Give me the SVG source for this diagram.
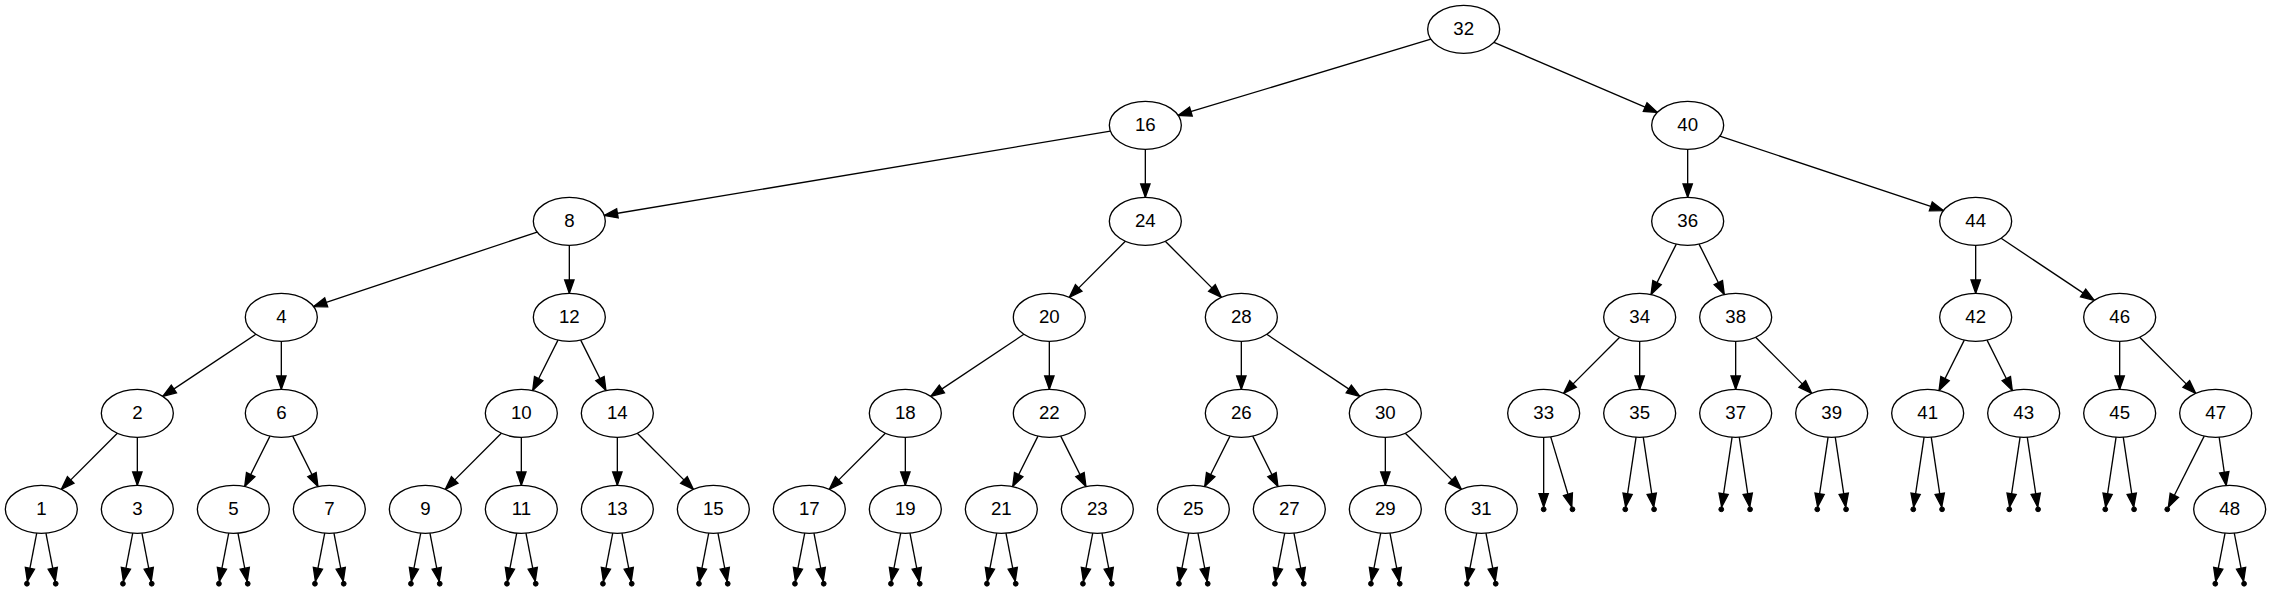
<svg xmlns="http://www.w3.org/2000/svg" width="2271" height="591" viewBox="0 0 2271 591">
<style>
.n ellipse{fill:#fff;stroke:#000;stroke-width:1.33}
.n text{font-family:"Liberation Sans",Arial,sans-serif;font-size:18.67px;text-anchor:middle;fill:#000}
#edges line{stroke:#000;stroke-width:1.33;marker-end:url(#ah)}
.pt{fill:#000;stroke:#000;stroke-width:1}
</style>
<defs>
<marker id="ah" markerUnits="userSpaceOnUse" markerWidth="20" markerHeight="20" refX="13.33" refY="0" orient="auto" overflow="visible">
<path d="M0,-4.67 L13.33,0 L0,4.67 Z" fill="#000" stroke="#000" stroke-width="1.33"/>
</marker>
</defs>
<rect width="2271" height="591" fill="#fff"/>
<g id="edges">
<g transform="translate(1463.67,29.33)"><line x1="-32.8" y1="9.89" x2="-285.53" y2="86.11"/><line x1="30.28" y1="12.98" x2="193.72" y2="83.02"/></g>
<g transform="translate(1145.33,125.33)"><line x1="-34.93" y1="5.82" x2="-541.07" y2="90.18"/><line x1="0" y1="24" x2="0" y2="72"/></g>
<g transform="translate(1687.67,125.33)"><line x1="0" y1="24" x2="0" y2="72"/><line x1="32.2" y1="10.73" x2="255.8" y2="85.27"/></g>
<g transform="translate(569.33,221.33)"><line x1="-32.2" y1="10.73" x2="-255.8" y2="85.27"/><line x1="0" y1="24" x2="0" y2="72"/></g>
<g transform="translate(1145.33,221.33)"><line x1="-19.97" y1="19.97" x2="-76.03" y2="76.03"/><line x1="19.97" y1="19.97" x2="76.03" y2="76.03"/></g>
<g transform="translate(1687.67,221.33)"><line x1="-11.38" y1="22.77" x2="-36.62" y2="73.23"/><line x1="11.38" y1="22.77" x2="36.62" y2="73.23"/></g>
<g transform="translate(1975.67,221.33)"><line x1="0" y1="24" x2="0" y2="72"/><line x1="25.46" y1="16.97" x2="118.54" y2="79.03"/></g>
<g transform="translate(281.33,317.33)"><line x1="-25.46" y1="16.97" x2="-118.54" y2="79.03"/><line x1="0" y1="24" x2="0" y2="72"/></g>
<g transform="translate(569.33,317.33)"><line x1="-11.38" y1="22.77" x2="-36.62" y2="73.23"/><line x1="11.38" y1="22.77" x2="36.62" y2="73.23"/></g>
<g transform="translate(1049.33,317.33)"><line x1="-25.46" y1="16.97" x2="-118.54" y2="79.03"/><line x1="0" y1="24" x2="0" y2="72"/></g>
<g transform="translate(1241.33,317.33)"><line x1="0" y1="24" x2="0" y2="72"/><line x1="25.46" y1="16.97" x2="118.54" y2="79.03"/></g>
<g transform="translate(1639.67,317.33)"><line x1="-19.97" y1="19.97" x2="-76.03" y2="76.03"/><line x1="0" y1="24" x2="0" y2="72"/></g>
<g transform="translate(1735.67,317.33)"><line x1="0" y1="24" x2="0" y2="72"/><line x1="19.97" y1="19.97" x2="76.03" y2="76.03"/></g>
<g transform="translate(1975.67,317.33)"><line x1="-11.38" y1="22.77" x2="-36.62" y2="73.23"/><line x1="11.38" y1="22.77" x2="36.62" y2="73.23"/></g>
<g transform="translate(2119.67,317.33)"><line x1="0" y1="24" x2="0" y2="72"/><line x1="19.97" y1="19.97" x2="76.03" y2="76.03"/></g>
<g transform="translate(137.33,413.33)"><line x1="-19.97" y1="19.97" x2="-76.03" y2="76.03"/><line x1="0" y1="24" x2="0" y2="72"/></g>
<g transform="translate(281.33,413.33)"><line x1="-11.38" y1="22.77" x2="-36.62" y2="73.23"/><line x1="11.38" y1="22.77" x2="36.62" y2="73.23"/></g>
<g transform="translate(521.33,413.33)"><line x1="-19.97" y1="19.97" x2="-76.03" y2="76.03"/><line x1="0" y1="24" x2="0" y2="72"/></g>
<g transform="translate(617.33,413.33)"><line x1="0" y1="24" x2="0" y2="72"/><line x1="19.97" y1="19.97" x2="76.03" y2="76.03"/></g>
<g transform="translate(905.33,413.33)"><line x1="-19.97" y1="19.97" x2="-76.03" y2="76.03"/><line x1="0" y1="24" x2="0" y2="72"/></g>
<g transform="translate(1049.33,413.33)"><line x1="-11.38" y1="22.77" x2="-36.62" y2="73.23"/><line x1="11.38" y1="22.77" x2="36.62" y2="73.23"/></g>
<g transform="translate(1241.33,413.33)"><line x1="-11.38" y1="22.77" x2="-36.62" y2="73.23"/><line x1="11.38" y1="22.77" x2="36.62" y2="73.23"/></g>
<g transform="translate(1385.33,413.33)"><line x1="0" y1="24" x2="0" y2="72"/><line x1="19.97" y1="19.97" x2="76.03" y2="76.03"/></g>
<g transform="translate(1543.67,413.33)"><line x1="0" y1="24" x2="0" y2="93.6"/><line x1="7.06" y1="23.53" x2="28.11" y2="93.7"/></g>
<g transform="translate(1639.67,413.33)"><line x1="-3.58" y1="23.88" x2="-14.04" y2="93.63"/><line x1="3.58" y1="23.88" x2="14.04" y2="93.63"/></g>
<g transform="translate(1735.67,413.33)"><line x1="-3.58" y1="23.88" x2="-14.04" y2="93.63"/><line x1="3.58" y1="23.88" x2="14.04" y2="93.63"/></g>
<g transform="translate(1831.67,413.33)"><line x1="-3.58" y1="23.88" x2="-14.04" y2="93.63"/><line x1="3.58" y1="23.88" x2="14.04" y2="93.63"/></g>
<g transform="translate(1927.67,413.33)"><line x1="-3.58" y1="23.88" x2="-14.04" y2="93.63"/><line x1="3.58" y1="23.88" x2="14.04" y2="93.63"/></g>
<g transform="translate(2023.67,413.33)"><line x1="-3.58" y1="23.88" x2="-14.04" y2="93.63"/><line x1="3.58" y1="23.88" x2="14.04" y2="93.63"/></g>
<g transform="translate(2119.67,413.33)"><line x1="-3.58" y1="23.88" x2="-14.04" y2="93.63"/><line x1="3.58" y1="23.88" x2="14.04" y2="93.63"/></g>
<g transform="translate(2215.67,413.33)"><line x1="-11.47" y1="22.75" x2="-47.32" y2="93.86"/><line x1="3.48" y1="23.89" x2="10.52" y2="72.11"/></g>
<g transform="translate(41.33,509.33)"><line x1="-4.61" y1="23.8" x2="-13.94" y2="72.04"/><line x1="4.61" y1="23.8" x2="13.94" y2="72.04"/></g>
<g transform="translate(137.33,509.33)"><line x1="-4.61" y1="23.8" x2="-13.94" y2="72.04"/><line x1="4.61" y1="23.8" x2="13.94" y2="72.04"/></g>
<g transform="translate(233.33,509.33)"><line x1="-4.61" y1="23.8" x2="-13.94" y2="72.04"/><line x1="4.61" y1="23.8" x2="13.94" y2="72.04"/></g>
<g transform="translate(329.33,509.33)"><line x1="-4.61" y1="23.8" x2="-13.94" y2="72.04"/><line x1="4.61" y1="23.8" x2="13.94" y2="72.04"/></g>
<g transform="translate(425.33,509.33)"><line x1="-4.61" y1="23.8" x2="-13.94" y2="72.04"/><line x1="4.61" y1="23.8" x2="13.94" y2="72.04"/></g>
<g transform="translate(521.33,509.33)"><line x1="-4.61" y1="23.8" x2="-13.94" y2="72.04"/><line x1="4.61" y1="23.8" x2="13.94" y2="72.04"/></g>
<g transform="translate(617.33,509.33)"><line x1="-4.61" y1="23.8" x2="-13.94" y2="72.04"/><line x1="4.61" y1="23.8" x2="13.94" y2="72.04"/></g>
<g transform="translate(713.33,509.33)"><line x1="-4.61" y1="23.8" x2="-13.94" y2="72.04"/><line x1="4.61" y1="23.8" x2="13.94" y2="72.04"/></g>
<g transform="translate(809.33,509.33)"><line x1="-4.61" y1="23.8" x2="-13.94" y2="72.04"/><line x1="4.61" y1="23.8" x2="13.94" y2="72.04"/></g>
<g transform="translate(905.33,509.33)"><line x1="-4.61" y1="23.8" x2="-13.94" y2="72.04"/><line x1="4.61" y1="23.8" x2="13.94" y2="72.04"/></g>
<g transform="translate(1001.33,509.33)"><line x1="-4.61" y1="23.8" x2="-13.94" y2="72.04"/><line x1="4.61" y1="23.8" x2="13.94" y2="72.04"/></g>
<g transform="translate(1097.33,509.33)"><line x1="-4.61" y1="23.8" x2="-13.94" y2="72.04"/><line x1="4.61" y1="23.8" x2="13.94" y2="72.04"/></g>
<g transform="translate(1193.33,509.33)"><line x1="-4.61" y1="23.8" x2="-13.94" y2="72.04"/><line x1="4.61" y1="23.8" x2="13.94" y2="72.04"/></g>
<g transform="translate(1289.33,509.33)"><line x1="-4.61" y1="23.8" x2="-13.94" y2="72.04"/><line x1="4.61" y1="23.8" x2="13.94" y2="72.04"/></g>
<g transform="translate(1385.33,509.33)"><line x1="-4.61" y1="23.8" x2="-13.94" y2="72.04"/><line x1="4.61" y1="23.8" x2="13.94" y2="72.04"/></g>
<g transform="translate(1481.33,509.33)"><line x1="-4.61" y1="23.8" x2="-13.94" y2="72.04"/><line x1="4.61" y1="23.8" x2="13.94" y2="72.04"/></g>
<g transform="translate(2229.67,509.33)"><line x1="-4.61" y1="23.8" x2="-13.94" y2="72.04"/><line x1="4.61" y1="23.8" x2="13.94" y2="72.04"/></g>
</g>
<g id="nodes">
<g id="n32" class="n" transform="translate(1463.67,29.33)"><ellipse rx="36" ry="24"/><text y="6">32</text></g>
<g id="n16" class="n" transform="translate(1145.33,125.33)"><ellipse rx="36" ry="24"/><text y="6">16</text></g>
<g id="n40" class="n" transform="translate(1687.67,125.33)"><ellipse rx="36" ry="24"/><text y="6">40</text></g>
<g id="n8" class="n" transform="translate(569.33,221.33)"><ellipse rx="36" ry="24"/><text y="6">8</text></g>
<g id="n24" class="n" transform="translate(1145.33,221.33)"><ellipse rx="36" ry="24"/><text y="6">24</text></g>
<g id="n36" class="n" transform="translate(1687.67,221.33)"><ellipse rx="36" ry="24"/><text y="6">36</text></g>
<g id="n44" class="n" transform="translate(1975.67,221.33)"><ellipse rx="36" ry="24"/><text y="6">44</text></g>
<g id="n4" class="n" transform="translate(281.33,317.33)"><ellipse rx="36" ry="24"/><text y="6">4</text></g>
<g id="n12" class="n" transform="translate(569.33,317.33)"><ellipse rx="36" ry="24"/><text y="6">12</text></g>
<g id="n20" class="n" transform="translate(1049.33,317.33)"><ellipse rx="36" ry="24"/><text y="6">20</text></g>
<g id="n28" class="n" transform="translate(1241.33,317.33)"><ellipse rx="36" ry="24"/><text y="6">28</text></g>
<g id="n34" class="n" transform="translate(1639.67,317.33)"><ellipse rx="36" ry="24"/><text y="6">34</text></g>
<g id="n38" class="n" transform="translate(1735.67,317.33)"><ellipse rx="36" ry="24"/><text y="6">38</text></g>
<g id="n42" class="n" transform="translate(1975.67,317.33)"><ellipse rx="36" ry="24"/><text y="6">42</text></g>
<g id="n46" class="n" transform="translate(2119.67,317.33)"><ellipse rx="36" ry="24"/><text y="6">46</text></g>
<g id="n2" class="n" transform="translate(137.33,413.33)"><ellipse rx="36" ry="24"/><text y="6">2</text></g>
<g id="n6" class="n" transform="translate(281.33,413.33)"><ellipse rx="36" ry="24"/><text y="6">6</text></g>
<g id="n10" class="n" transform="translate(521.33,413.33)"><ellipse rx="36" ry="24"/><text y="6">10</text></g>
<g id="n14" class="n" transform="translate(617.33,413.33)"><ellipse rx="36" ry="24"/><text y="6">14</text></g>
<g id="n18" class="n" transform="translate(905.33,413.33)"><ellipse rx="36" ry="24"/><text y="6">18</text></g>
<g id="n22" class="n" transform="translate(1049.33,413.33)"><ellipse rx="36" ry="24"/><text y="6">22</text></g>
<g id="n26" class="n" transform="translate(1241.33,413.33)"><ellipse rx="36" ry="24"/><text y="6">26</text></g>
<g id="n30" class="n" transform="translate(1385.33,413.33)"><ellipse rx="36" ry="24"/><text y="6">30</text></g>
<g id="n33" class="n" transform="translate(1543.67,413.33)"><ellipse rx="36" ry="24"/><text y="6">33</text></g>
<g id="n35" class="n" transform="translate(1639.67,413.33)"><ellipse rx="36" ry="24"/><text y="6">35</text></g>
<g id="n37" class="n" transform="translate(1735.67,413.33)"><ellipse rx="36" ry="24"/><text y="6">37</text></g>
<g id="n39" class="n" transform="translate(1831.67,413.33)"><ellipse rx="36" ry="24"/><text y="6">39</text></g>
<g id="n41" class="n" transform="translate(1927.67,413.33)"><ellipse rx="36" ry="24"/><text y="6">41</text></g>
<g id="n43" class="n" transform="translate(2023.67,413.33)"><ellipse rx="36" ry="24"/><text y="6">43</text></g>
<g id="n45" class="n" transform="translate(2119.67,413.33)"><ellipse rx="36" ry="24"/><text y="6">45</text></g>
<g id="n47" class="n" transform="translate(2215.67,413.33)"><ellipse rx="36" ry="24"/><text y="6">47</text></g>
<g id="n1" class="n" transform="translate(41.33,509.33)"><ellipse rx="36" ry="24"/><text y="6">1</text></g>
<g id="n3" class="n" transform="translate(137.33,509.33)"><ellipse rx="36" ry="24"/><text y="6">3</text></g>
<g id="n5" class="n" transform="translate(233.33,509.33)"><ellipse rx="36" ry="24"/><text y="6">5</text></g>
<g id="n7" class="n" transform="translate(329.33,509.33)"><ellipse rx="36" ry="24"/><text y="6">7</text></g>
<g id="n9" class="n" transform="translate(425.33,509.33)"><ellipse rx="36" ry="24"/><text y="6">9</text></g>
<g id="n11" class="n" transform="translate(521.33,509.33)"><ellipse rx="36" ry="24"/><text y="6">11</text></g>
<g id="n13" class="n" transform="translate(617.33,509.33)"><ellipse rx="36" ry="24"/><text y="6">13</text></g>
<g id="n15" class="n" transform="translate(713.33,509.33)"><ellipse rx="36" ry="24"/><text y="6">15</text></g>
<g id="n17" class="n" transform="translate(809.33,509.33)"><ellipse rx="36" ry="24"/><text y="6">17</text></g>
<g id="n19" class="n" transform="translate(905.33,509.33)"><ellipse rx="36" ry="24"/><text y="6">19</text></g>
<g id="n21" class="n" transform="translate(1001.33,509.33)"><ellipse rx="36" ry="24"/><text y="6">21</text></g>
<g id="n23" class="n" transform="translate(1097.33,509.33)"><ellipse rx="36" ry="24"/><text y="6">23</text></g>
<g id="n25" class="n" transform="translate(1193.33,509.33)"><ellipse rx="36" ry="24"/><text y="6">25</text></g>
<g id="n27" class="n" transform="translate(1289.33,509.33)"><ellipse rx="36" ry="24"/><text y="6">27</text></g>
<g id="n29" class="n" transform="translate(1385.33,509.33)"><ellipse rx="36" ry="24"/><text y="6">29</text></g>
<g id="n31" class="n" transform="translate(1481.33,509.33)"><ellipse rx="36" ry="24"/><text y="6">31</text></g>
<g id="n48" class="n" transform="translate(2229.67,509.33)"><ellipse rx="36" ry="24"/><text y="6">48</text></g>
</g>
<g id="null-points">
<circle id="p33L" class="pt" cx="1543.67" cy="509.33" r="2.4"/><circle id="p33R" class="pt" cx="1572.47" cy="509.33" r="2.4"/>
<circle id="p35L" class="pt" cx="1625.27" cy="509.33" r="2.4"/><circle id="p35R" class="pt" cx="1654.07" cy="509.33" r="2.4"/>
<circle id="p37L" class="pt" cx="1721.27" cy="509.33" r="2.4"/><circle id="p37R" class="pt" cx="1750.07" cy="509.33" r="2.4"/>
<circle id="p39L" class="pt" cx="1817.27" cy="509.33" r="2.4"/><circle id="p39R" class="pt" cx="1846.07" cy="509.33" r="2.4"/>
<circle id="p41L" class="pt" cx="1913.27" cy="509.33" r="2.4"/><circle id="p41R" class="pt" cx="1942.07" cy="509.33" r="2.4"/>
<circle id="p43L" class="pt" cx="2009.27" cy="509.33" r="2.4"/><circle id="p43R" class="pt" cx="2038.07" cy="509.33" r="2.4"/>
<circle id="p45L" class="pt" cx="2105.27" cy="509.33" r="2.4"/><circle id="p45R" class="pt" cx="2134.07" cy="509.33" r="2.4"/>
<circle id="p47L" class="pt" cx="2167.27" cy="509.33" r="2.4"/>
<circle id="p1L" class="pt" cx="26.93" cy="583.73" r="2.4"/><circle id="p1R" class="pt" cx="55.73" cy="583.73" r="2.4"/>
<circle id="p3L" class="pt" cx="122.93" cy="583.73" r="2.4"/><circle id="p3R" class="pt" cx="151.73" cy="583.73" r="2.4"/>
<circle id="p5L" class="pt" cx="218.93" cy="583.73" r="2.4"/><circle id="p5R" class="pt" cx="247.73" cy="583.73" r="2.4"/>
<circle id="p7L" class="pt" cx="314.93" cy="583.73" r="2.4"/><circle id="p7R" class="pt" cx="343.73" cy="583.73" r="2.4"/>
<circle id="p9L" class="pt" cx="410.93" cy="583.73" r="2.4"/><circle id="p9R" class="pt" cx="439.73" cy="583.73" r="2.4"/>
<circle id="p11L" class="pt" cx="506.93" cy="583.73" r="2.4"/><circle id="p11R" class="pt" cx="535.73" cy="583.73" r="2.4"/>
<circle id="p13L" class="pt" cx="602.93" cy="583.73" r="2.4"/><circle id="p13R" class="pt" cx="631.73" cy="583.73" r="2.4"/>
<circle id="p15L" class="pt" cx="698.93" cy="583.73" r="2.4"/><circle id="p15R" class="pt" cx="727.73" cy="583.73" r="2.4"/>
<circle id="p17L" class="pt" cx="794.93" cy="583.73" r="2.4"/><circle id="p17R" class="pt" cx="823.73" cy="583.73" r="2.4"/>
<circle id="p19L" class="pt" cx="890.93" cy="583.73" r="2.4"/><circle id="p19R" class="pt" cx="919.73" cy="583.73" r="2.4"/>
<circle id="p21L" class="pt" cx="986.93" cy="583.73" r="2.4"/><circle id="p21R" class="pt" cx="1015.73" cy="583.73" r="2.4"/>
<circle id="p23L" class="pt" cx="1082.93" cy="583.73" r="2.4"/><circle id="p23R" class="pt" cx="1111.73" cy="583.73" r="2.4"/>
<circle id="p25L" class="pt" cx="1178.93" cy="583.73" r="2.4"/><circle id="p25R" class="pt" cx="1207.73" cy="583.73" r="2.4"/>
<circle id="p27L" class="pt" cx="1274.93" cy="583.73" r="2.4"/><circle id="p27R" class="pt" cx="1303.73" cy="583.73" r="2.4"/>
<circle id="p29L" class="pt" cx="1370.93" cy="583.73" r="2.4"/><circle id="p29R" class="pt" cx="1399.73" cy="583.73" r="2.4"/>
<circle id="p31L" class="pt" cx="1466.93" cy="583.73" r="2.4"/><circle id="p31R" class="pt" cx="1495.73" cy="583.73" r="2.4"/>
<circle id="p48L" class="pt" cx="2215.27" cy="583.73" r="2.4"/><circle id="p48R" class="pt" cx="2244.07" cy="583.73" r="2.4"/>
</g>
</svg>
